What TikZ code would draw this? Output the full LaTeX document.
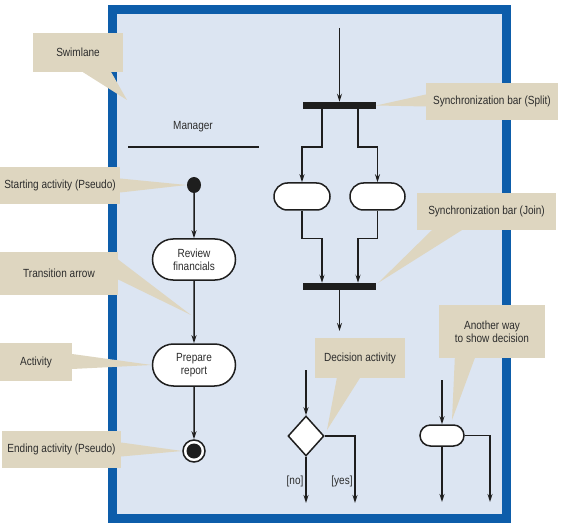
\documentclass[tikz,border=0pt]{standalone}
\usepackage{fontspec}
\setmainfont{Liberation Sans}[FakeStretch=0.85]
\usetikzlibrary{arrows.meta,shapes.misc,shapes.geometric}
\definecolor{frameblue}{HTML}{0D5DAA}
\definecolor{lanebg}{HTML}{DCE5F2}
\definecolor{tan}{HTML}{DED6C0}
\definecolor{txt}{HTML}{2C2C2C}
\definecolor{ink}{HTML}{1E1E1E}
\tikzset{
  x=1pt, y=-1pt,
  every node/.style={font=\fontsize{11.8}{12.8}\selectfont, text=txt},
  callbox/.style={rectangle, fill=tan, inner sep=0pt, align=center},
  callptr/.style={fill=tan, draw=none},
  pill/.style={rounded rectangle, draw=ink, fill=white, line width=1.5pt, inner sep=0pt, align=center},
  bar/.style={rectangle, fill=ink, inner sep=0pt, minimum width=73pt, minimum height=7pt},
  arr/.style={draw=ink, line width=1.5pt, -{Stealth[length=8pt,width=5pt]}},
}
\begin{document}
\begin{tikzpicture}
\useasboundingbox (0,0) rectangle (564,526);
% swimlane frame
\draw[frameblue, fill=lanebg, line width=9pt] (112.5,9.5) rectangle (506.5,518.5);

% Manager
\node (mgr) at (193,127) {Manager};
\coordinate (mgrL) at (128,147);
\coordinate (mgrR) at (259,147);
\draw[ink, line width=1.6pt] (mgrL) -- (mgrR);

% left column
\node[ellipse, fill=ink, inner sep=0pt, minimum width=14pt, minimum height=16pt] (start) at (194,185) {};
\node[pill, minimum width=83pt, minimum height=41pt] (review) at (194,259.5) {Review\\financials};
\node[pill, minimum width=83pt, minimum height=42pt] (prepare) at (194,365) {Prepare\\report};
\node[circle, draw=ink, fill=white, line width=1.5pt, minimum size=22pt, inner sep=0pt] (end) at (194,451) {};
\node[circle, fill=ink, minimum size=15pt, inner sep=0pt] (endin) at (194,451) {};
\draw[arr] (start) -- (review);
\draw[arr] (review) -- (prepare);
\draw[arr] (prepare) -- (end);

% fork / join
\coordinate (topin) at (339.5,28);
\node[bar] (split) at (339.5,105.5) {};
\node[pill, minimum width=56pt, minimum height=27pt] (pillA) at (302,196.5) {};
\node[pill, minimum width=55pt, minimum height=27pt] (pillB) at (377.5,196.5) {};
\node[bar] (join) at (339.5,286.5) {};
\coordinate (joinout) at (339.5,331);
\draw[arr] (topin) -- (split.north);
\draw[arr] ([xshift=-17.5pt]split.south) -- ++(0,38) -| (pillA.north);
\draw[arr] ([xshift=18.5pt]split.south) -- ++(0,38) -| (pillB.north);
\draw[arr] (pillA.south) -- ++(0,28) -| ([xshift=-17.5pt]join.north);
\draw[arr] (pillB.south) -- ++(0,28) -| ([xshift=18.5pt]join.north);
\draw[arr] (join.south) -- (joinout);

% decision
\coordinate (decin) at (306,370);
\node[diamond, draw=ink, fill=white, line width=1.5pt, minimum width=36pt, minimum height=40pt, inner sep=0pt] (dec) at (306,436) {};
\coordinate (noend) at (306,503);
\coordinate (yesend) at (355,503);
\draw[arr] (decin) -- (dec.north);
\draw[arr] (dec.south) -- (noend);
\draw[arr] (dec.east) -| (yesend);
\node (no) at (295,481) {[no]};
\node (yes) at (342,481) {[yes]};

% alternative decision
\coordinate (altin) at (442,380);
\node[pill, minimum width=44pt, minimum height=21pt] (alt) at (442,435.5) {};
\coordinate (altend1) at (442,502);
\coordinate (altend2) at (490,502);
\draw[arr] (altin) -- (alt.north);
\draw[arr] (alt.south) -- (altend1);
\draw[arr] (alt.east) -| (altend2);

% callouts
\node[callbox, minimum width=90pt, minimum height=39pt] (cSwim) at (78,52.5) {Swimlane};
\coordinate (tSwim) at (127,100);
\fill[callptr] ([xshift=5pt]cSwim.south) -- ([xshift=-12pt]cSwim.south east) -- (tSwim) -- cycle;

\node[callbox, minimum width=120pt, minimum height=37pt] (cStart) at (60,185.5) {Starting activity (Pseudo)};
\fill[callptr] ([yshift=-7pt]cStart.east) -- ([yshift=7pt]cStart.east) -- (start.west) -- cycle;

\node[callbox, minimum width=118pt, minimum height=42pt] (cTrans) at (59,273.5) {Transition arrow};
\coordinate (tTrans) at (191,315);
\fill[callptr] ([yshift=-6pt]cTrans.east) -- ([yshift=14pt]cTrans.east) -- (tTrans) -- cycle;

\node[callbox, minimum width=72pt, minimum height=38pt] (cAct) at (36,362) {Activity};
\fill[callptr] ([yshift=-7pt]cAct.east) -- ([yshift=8pt]cAct.east) -- (prepare.west) -- cycle;

\node[callbox, minimum width=119pt, minimum height=37pt] (cEnd) at (61.5,449.5) {Ending activity (Pseudo)};
\fill[callptr] ([yshift=-7pt]cEnd.east) -- ([yshift=7pt]cEnd.east) -- (end.west) -- cycle;

\node[callbox, minimum width=132pt, minimum height=37pt] (cSplit) at (492,101.5) {Synchronization bar (Split)};
\fill[callptr] ([yshift=-5pt]cSplit.west) -- ([yshift=7pt]cSplit.west) -- (split.east) -- cycle;

\node[callbox, minimum width=139pt, minimum height=37pt] (cJoin) at (486.5,211.5) {Synchronization bar (Join)};
\coordinate (tJoin) at (378,283);
\fill[callptr] ([xshift=15pt]cJoin.south west) -- ([xshift=45pt]cJoin.south west) -- (tJoin) -- cycle;

\node[callbox, minimum width=90pt, minimum height=40pt] (cDec) at (360,358) {Decision activity};
\coordinate (tDec) at (327,430);
\fill[callptr] ([xshift=22pt]cDec.south west) -- ([xshift=45pt]cDec.south west) -- (tDec) -- cycle;

\node[callbox, minimum width=106pt, minimum height=53pt] (cAlt) at (492,331.5) {Another way\\to show decision};
\coordinate (tAlt) at (452,420);
\fill[callptr] ([xshift=16pt]cAlt.south west) -- ([xshift=36pt]cAlt.south west) -- (tAlt) -- cycle;
\end{tikzpicture}
\end{document}
